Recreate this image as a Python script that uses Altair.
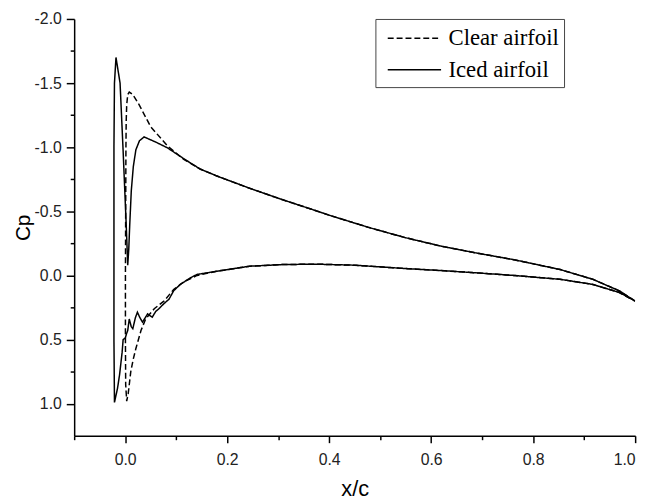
import altair as alt
import pandas as pd

# Iced airfoil: closed path, from trailing edge along upper surface, around the ice horn, back along lower surface
iced_x = [1.0, 0.969, 0.917, 0.853, 0.762, 0.69, 0.62, 0.549, 0.477, 0.4, 0.374, 0.309, 0.244, 0.18, 0.147,
          0.115, 0.083, 0.06, 0.037, 0.028, 0.021, 0.016, 0.012, 0.009, 0.007, 0.005, 0.002, -0.004, -0.010,
          -0.018, -0.021, -0.022, -0.022, -0.022, -0.021, -0.015, -0.011, -0.006, -0.004, 0.0, 0.003, 0.005,
          0.008, 0.012, 0.015, 0.020, 0.024, 0.029, 0.034, 0.044, 0.053, 0.060, 0.066, 0.076, 0.086, 0.095,
          0.108, 0.128, 0.141, 0.18, 0.244, 0.309, 0.374, 0.45, 0.549, 0.62, 0.69, 0.762, 0.853, 0.917, 0.969, 1.0]
iced_cp = [0.2, 0.12, 0.03, -0.046, -0.123, -0.174, -0.228, -0.295, -0.375, -0.47, -0.505, -0.59, -0.68, -0.775, -0.83,
           -0.91, -0.995, -1.04, -1.08, -1.05, -0.98, -0.85, -0.66, -0.4, -0.2, -0.08, -0.4, -0.97, -1.5,
           -1.70, -1.5, -1.0, -0.3, 0.5, 0.99, 0.88, 0.775, 0.6, 0.5, 0.49, 0.45, 0.43,
           0.34, 0.40, 0.415, 0.33, 0.287, 0.33, 0.364, 0.30, 0.326, 0.28, 0.26, 0.22, 0.185, 0.12,
           0.07, 0.018, -0.008, -0.033, -0.072, -0.085, -0.088, -0.08, -0.054, -0.038, -0.02, 0.0, 0.03, 0.07, 0.133, 0.2]

# Clear airfoil
clear_x = [1.0, 0.969, 0.917, 0.853, 0.762, 0.69, 0.62, 0.549, 0.477, 0.4, 0.374, 0.309, 0.244, 0.18, 0.147,
           0.115, 0.083, 0.05, 0.0275, 0.015, 0.008, 0.005, 0.003, 0.002, 0.0015, 0.001, 0.0005, 0.0005, 0.001,
           0.003, 0.006, 0.011, 0.016, 0.021, 0.031, 0.04, 0.057, 0.076, 0.095, 0.115, 0.141,
           0.18, 0.244, 0.309, 0.374, 0.45, 0.549, 0.62, 0.69, 0.762, 0.853, 0.917, 0.969, 1.0]
clear_cp = [0.2, 0.12, 0.03, -0.046, -0.123, -0.174, -0.228, -0.295, -0.375, -0.47, -0.505, -0.59, -0.68, -0.775, -0.83,
            -0.905, -1.01, -1.16, -1.33, -1.41, -1.43, -1.41, -1.33, -1.2, -1.0, -0.5, 0.0, 0.5, 0.85,
            0.98, 0.92, 0.75, 0.65, 0.57, 0.43, 0.34, 0.26, 0.2, 0.11, 0.05, 0.0,
            -0.033, -0.072, -0.085, -0.088, -0.08, -0.054, -0.038, -0.02, 0.0, 0.03, 0.07, 0.133, 0.2]

series_names = ["Clear airfoil", "Iced airfoil"]

major_x = [0.0, 0.2, 0.4, 0.6, 0.8, 1.0]
minor_x = [-0.1, 0.1, 0.3, 0.5, 0.7, 0.9]
major_y = [-2.0, -1.5, -1.0, -0.5, 0.0, 0.5, 1.0]
minor_y = [-1.75, -1.25, -0.75, -0.25, 0.25, 0.75]

rows = []
for name, xs, ys in ((series_names[0], clear_x, clear_cp), (series_names[1], iced_x, iced_cp)):
    for i, (xv, yv) in enumerate(zip(xs, ys)):
        rows.append({"series": name, "x": xv, "cp": yv, "idx": i})
df = pd.DataFrame(rows)

xscale = alt.Scale(domain=[-0.1, 1.0], nice=False, zero=False)
yscale = alt.Scale(domain=[-2.0, 1.25], reverse=True, nice=False, zero=False)
fix_minus = "replace(datum.label, '\u2212', '-')"

lines = alt.Chart(df).mark_line(strokeWidth=1.5, color="black", clip=True).encode(
    x=alt.X("x:Q", scale=xscale,
            axis=alt.Axis(values=major_x, format=".1f", labelExpr=fix_minus, title="x/c", orient="bottom",
                          tickSize=7, labelPadding=9, titlePadding=12, titleFontSize=22)),
    y=alt.Y("cp:Q", scale=yscale,
            axis=alt.Axis(values=major_y, format=".1f", labelExpr=fix_minus, title="Cp", orient="left",
                          tickSize=8, labelPadding=5, titlePadding=1, titleFontSize=21)),
    strokeDash=alt.StrokeDash(
        "series:N",
        scale=alt.Scale(domain=series_names, range=[[6, 3], [1, 0]]),
        legend=alt.Legend(title=None, orient="none", legendX=305, legendY=0, symbolType="M-2,0H2",
                          symbolSize=729, symbolStrokeWidth=1.5, symbolStrokeColor="black",
                          symbolOffset=20,
                          labelFont="Liberation Serif", labelFontSize=23, labelColor="black",
                          strokeColor="#444", fillColor="white", padding=5, rowPadding=5,
                          labelOffset=20, labelLimit=300),
    ),
    detail="series:N",
    order="idx:Q",
)

minor = alt.Chart(df).mark_line(strokeOpacity=0).encode(
    x=alt.X("x:Q", scale=xscale,
            axis=alt.Axis(values=minor_x, labels=False, title=None, domain=False, tickSize=4, orient="bottom")),
    y=alt.Y("cp:Q", scale=yscale,
            axis=alt.Axis(values=minor_y, labels=False, title=None, domain=False, tickSize=4, orient="left")),
    detail="series:N",
    order="idx:Q",
)

chart = alt.layer(minor, lines).resolve_axis(x="independent", y="independent").properties(
    width=568, height=422,
    autosize=alt.AutoSizeParams(type="none"),
    padding={"left": 67, "top": 8, "right": 12, "bottom": 66},
).configure_axis(
    domainColor="black", domainWidth=1.5, tickColor="black", tickWidth=1.5,
    labelColor="#222", labelFont="Liberation Sans", labelFontSize=16,
    titleFont="Liberation Sans", titleFontWeight="normal", titleColor="black", grid=False,
).configure_view(strokeWidth=0)

chart.save("out.html", embed_options={"renderer": "svg", "actions": False})
